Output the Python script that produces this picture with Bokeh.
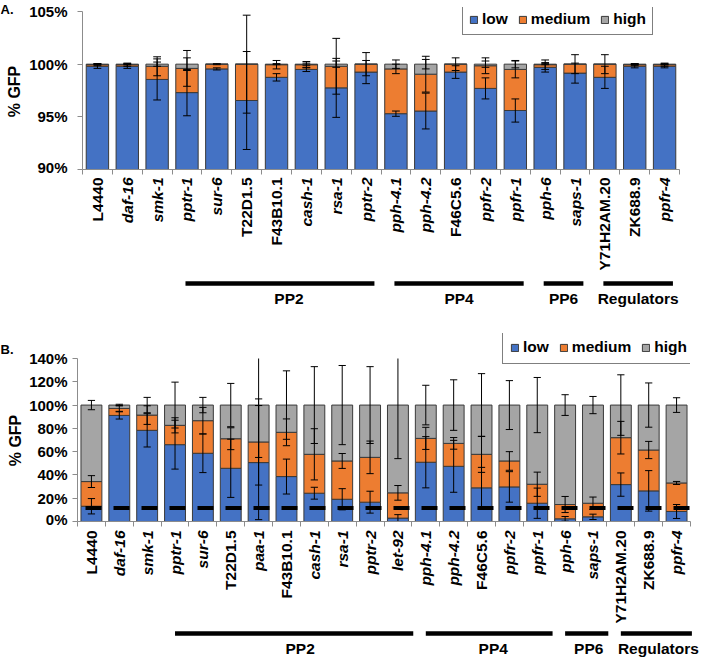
import math
from bokeh.plotting import figure
from bokeh.models import (ColumnDataSource, Range1d, FixedTicker, PrintfTickFormatter,
                          Legend, LegendItem, Span)
from bokeh.layouts import column, row
from bokeh.core.properties import value
from bokeh.embed import file_html
from bokeh.resources import INLINE

# ---------------- data: panel A ----------------
cats_a = ["L4440", "daf-16", "smk-1", "pptr-1", "sur-6", "T22D1.5", "F43B10.1", "cash-1",
          "rsa-1", "pptr-2", "pph-4.1", "pph-4.2", "F46C5.6", "ppfr-2", "ppfr-1", "pph-6",
          "saps-1", "Y71H2AM.20", "ZK688.9", "ppfr-4"]
low_a = [99.80, 99.80, 98.55, 97.30, 99.55, 96.55, 98.75, 99.50, 97.75, 99.25,
         95.30, 95.55, 99.25, 97.70, 95.60, 99.70, 99.15, 98.75, 99.80, 99.80]
med_a = [0.15, 0.15, 1.25, 2.30, 0.45, 3.45, 1.20, 0.45, 2.05, 0.75,
         4.25, 3.50, 0.75, 2.15, 3.90, 0.25, 0.85, 1.25, 0.15, 0.15]
high_a = [0.05, 0.05, 0.20, 0.40, 0.00, 0.00, 0.05, 0.05, 0.20, 0.00,
          0.45, 0.95, 0.00, 0.15, 0.50, 0.05, 0.00, 0.00, 0.05, 0.05]
err_low_a = [0.20, 0.20, 1.95, 2.20, 0.10, 4.65, 0.35, 0.20, 2.80, 1.10,
             0.25, 1.70, 0.60, 1.00, 1.10, 0.45, 0.95, 1.05, 0.15, 0.15]
err_med_a = [0.10, 0.15, 0.90, 1.70, 0.05, 4.65, 0.40, 0.30, 2.65, 1.10,
             0.45, 1.70, 0.60, 0.75, 0.80, 0.45, 0.90, 0.90, 0.10, 0.15]
err_high_a = [0.05, 0.05, 0.20, 0.60, 0.00, 0.00, 0.05, 0.10, 0.30, 0.00,
              0.40, 0.45, 0.00, 0.30, 0.35, 0.05, 0.00, 0.00, 0.05, 0.05]
yticks_a = [90, 95, 100, 105]
groups_a = [("PP2", "pptr-1", "pptr-2"), ("PP4", "pph-4.1", "ppfr-1"),
            ("PP6", "pph-6", "saps-1"), ("Regulators", "Y71H2AM.20", "ppfr-4")]

# ---------------- data: panel B ----------------
cats_b = ["L4440", "daf-16", "smk-1", "pptr-1", "sur-6", "T22D1.5", "paa-1", "F43B10.1",
          "cash-1", "rsa-1", "pptr-2", "let-92", "pph-4.1", "pph-4.2", "F46C5.6", "ppfr-2",
          "ppfr-1", "pph-6", "saps-1", "Y71H2AM.20", "ZK688.9", "ppfr-4"]
low_b = [13.1, 91.1, 78.3, 66.0, 58.6, 45.7, 50.6, 38.6, 24.3, 19.1, 16.6,
         2.9, 50.9, 47.4, 28.9, 29.7, 15.7, 2.3, 4.0, 31.7, 26.3, 8.6]
med_b = [21.2, 6.0, 13.1, 16.6, 28.0, 25.4, 17.7, 38.0, 33.4, 32.9, 38.5,
         21.7, 20.5, 19.7, 28.8, 22.3, 16.3, 12.3, 11.7, 40.3, 35.1, 24.5]
high_b = [65.7, 2.9, 8.6, 17.4, 13.4, 28.9, 31.7, 23.4, 42.3, 48.0, 44.9,
          75.4, 28.6, 32.9, 42.3, 48.0, 68.0, 85.4, 84.3, 28.0, 38.6, 66.9]
err_low_b = [6.6, 3.1, 14.3, 21.0, 16.6, 25.0, 49.0, 15.0, 5.1, 9.1, 9.4,
             3.0, 22.0, 22.3, 17.6, 13.1, 13.0, 2.0, 2.3, 10.0, 17.4, 6.0]
err_med_b = [5.1, 2.5, 8.0, 6.5, 11.4, 9.4, 37.0, 11.5, 22.0, 6.4, 14.0,
             6.3, 9.5, 5.0, 15.5, 8.0, 10.4, 6.9, 5.3, 14.0, 7.4, 1.3]
err_high_b = [4.0, 0.7, 6.6, 19.7, 6.6, 18.6, 45.0, 29.4, 33.0, 34.0, 33.0,
              46.0, 17.0, 21.7, 27.0, 21.0, 23.7, 8.9, 7.4, 26.0, 19.0, 6.3]
yticks_b = [0, 20, 40, 60, 80, 100, 120, 140]
threshold_b = 11.7
groups_b = [("PP2", "pptr-1", "let-92"), ("PP4", "pph-4.1", "ppfr-1"),
            ("PP6", "pph-6", "saps-1"), ("Regulators", "Y71H2AM.20", "ppfr-4")]

series = ["low", "medium", "high"]
plain_names = {"L4440", "T22D1.5", "F43B10.1", "F46C5.6", "Y71H2AM.20", "ZK688.9"}

# ---------------- style ----------------
FONT = "Liberation Sans"
COLORS = ["#4472C4", "#ED7D31", "#A5A5A5"]
EDGE = "#3a3a3a"
AXIS = "#8c8c8c"
W = 702      # full page width (Bokeh's page has no body margin)
LW = 24      # width of the little left column holding "A." / "% GFP"


def blank_fig(width, height):
    f = figure(width=width, height=height, x_range=Range1d(0, width), y_range=Range1d(0, height),
               x_axis_type=None, y_axis_type=None, output_backend="svg",
               toolbar_location=None, min_border=0, frame_align=False)
    f.outline_line_color = None
    f.xgrid.visible = False
    f.ygrid.visible = False
    f.background_fill_color = "white"
    f.border_fill_color = "white"
    return f


def make_panel(tag, cats, low, med, high, errs, yticks, geo, groups, threshold=None):
    n = len(cats)
    y0, y1 = yticks[0], yticks[-1]
    fl, fr, ft, ftop_axis, fb, mh, sh = (geo["fl"], geo["fr"], geo["ft"], geo["fa"],
                                         geo["fb"], geo["mh"], geo["sh"])
    cw = (fr - fl) / n
    # frame reaches up to the legend; the axis itself stops at y1
    y_ext = y0 + (y1 - y0) * (fb - ft) / (fb - ftop_axis)
    mw = W - LW
    p = figure(width=mw, height=mh, x_range=Range1d(0, n), y_range=Range1d(y0, y_ext),
               output_backend="svg", toolbar_location=None, frame_align=False,
               min_border_left=fl - LW, min_border_right=W - fr,
               min_border_top=ft, min_border_bottom=mh - fb)
    p.outline_line_color = None
    p.xgrid.visible = False
    p.ygrid.visible = False
    p.background_fill_color = "white"
    p.border_fill_color = "white"

    p.xaxis.ticker = FixedTicker(ticks=list(range(n + 1)))
    p.xaxis.major_label_overrides = {i: "" for i in range(n + 1)}
    p.xaxis.major_label_text_font_size = "1px"
    p.xaxis.major_label_standoff = 0
    p.xaxis.major_tick_out = 5
    p.xaxis.major_tick_in = 0
    p.xaxis.minor_tick_line_color = None
    p.xaxis.axis_line_color = AXIS
    p.xaxis.major_tick_line_color = AXIS

    p.yaxis.bounds = (y0, y1)
    p.yaxis.ticker = FixedTicker(ticks=yticks)
    p.yaxis.formatter = PrintfTickFormatter(format="%d%%")
    p.yaxis.major_tick_out = 5
    p.yaxis.major_tick_in = 0
    p.yaxis.minor_tick_line_color = None
    p.yaxis.axis_line_color = AXIS
    p.yaxis.major_tick_line_color = AXIS
    p.yaxis.major_label_text_font = FONT
    p.yaxis.major_label_text_font_style = "bold"
    p.yaxis.major_label_text_font_size = "15px"
    p.yaxis.major_label_text_color = "black"
    p.yaxis.major_label_standoff = geo["standoff"]

    xs = [i + 0.5 for i in range(n)]
    src = ColumnDataSource(dict(x=xs, low=low, medium=med, high=high))
    rs = p.vbar_stack(series, x="x", width=0.75, source=src,
                      fill_color=COLORS, line_color=EDGE, line_width=1)

    if threshold is not None:
        p.add_layout(Span(location=threshold, dimension="width", line_color="black",
                          line_width=4, line_dash="16 12", line_dash_offset=20))

    # error bars at the top of each stacked segment (cut at the axis top like the original)
    tops = [low,
            [a + b for a, b in zip(low, med)],
            [a + b + c for a, b, c in zip(low, med, high)]]
    ex, ey0, ey1 = [], [], []
    cx0, cx1, cy = [], [], []
    half_cap = 0.13
    for t, e in zip(tops, errs):
        for i in range(n):
            if e[i] <= 0:
                continue
            lo, hi = t[i] - e[i], t[i] + e[i]
            ex.append(xs[i]); ey0.append(max(lo, y0)); ey1.append(min(hi, y1))
            for yy in (lo, hi):
                if y0 <= yy <= y1:
                    cx0.append(xs[i] - half_cap); cx1.append(xs[i] + half_cap); cy.append(yy)
    p.segment(x0=ex, y0=ey0, x1=ex, y1=ey1, line_color="black", line_width=1)
    p.segment(x0=cx0, y0=cy, x1=cx1, y1=cy, line_color="black", line_width=1)

    legend = Legend(items=[LegendItem(label=s, renderers=[r]) for s, r in zip(series, rs)],
                    orientation="horizontal", location=geo["legend_loc"],
                    border_line_color="black", border_line_width=1,
                    background_fill_color="white", background_fill_alpha=1,
                    label_text_font=FONT, label_text_font_style="bold",
                    label_text_font_size="15.5px", label_text_color="black",
                    glyph_width=9, glyph_height=9, label_standoff=4, spacing=10,
                    padding=geo["leg_pad"], margin=0, label_height=16)
    p.add_layout(legend)

    # left column: panel tag and y-axis title
    lf = blank_fig(LW, mh)
    lf.text(x=[0], y=[mh - geo["tag_top"]], text=[tag], text_align="left", text_baseline="top",
            text_font=value(FONT), text_font_style=value("bold"),
            text_font_size=value("13px"), text_color="black")
    lf.text(x=[geo["ylab_x"]], y=[mh - geo["ylab_y"]], text=["% GFP"], angle=math.pi / 2,
            text_align="center", text_baseline="middle",
            text_font=value(FONT), text_font_style=value("bold"),
            text_font_size=value("16px"), text_color="black")

    # strip below the axis: category names, group bars and group names
    s = blank_fig(W, sh)
    cx = [fl + (i + 0.5) * cw for i in range(n)]
    ly = sh - geo["lab_top"]
    for style, keep in (("bold", True), ("bold italic", False)):
        idx = [i for i in range(n) if (cats[i] in plain_names) == keep]
        s.text(x=[cx[i] for i in idx], y=[ly] * len(idx), text=[cats[i] for i in idx],
               angle=math.pi / 2, text_align="right", text_baseline="middle",
               text_font=value(FONT), text_font_style=value(style),
               text_font_size=value("15.5px"), text_color="black")

    gx0, gx1, gx, gname = [], [], [], []
    for k, (name, first, last) in enumerate(groups):
        a = fl + (cats.index(first) + geo["g_start"]) * cw
        b = fl + (cats.index(last) + geo["g_end"]) * cw
        gx0.append(a); gx1.append(b); gx.append((a + b) / 2 + geo["g_shift"][k]); gname.append(name)
    gy = sh - geo["g_line"]
    s.segment(x0=gx0, y0=[gy] * len(gx0), x1=gx1, y1=[gy] * len(gx0),
              line_color="black", line_width=4.5, line_cap="butt")
    s.text(x=gx, y=[sh - geo["g_text"]] * len(gx), text=gname,
           text_align="center", text_baseline="middle",
           text_font=value(FONT), text_font_style=value("bold"),
           text_font_size=value("15.5px"), text_color="black")
    return row(lf, p, spacing=0), s


# pixel geometry of each panel (page pixels; B measured from its own top at y=318)
geo_a = dict(fl=82, fr=679, ft=7, fa=11, fb=169, mh=175, sh=143, standoff=10,
             tag_top=1, ylab_x=14, ylab_y=91, legend_loc=(380, 134), leg_pad=6,
             lab_top=2, g_line=108, g_text=123, g_start=0.45, g_end=0.78,
             g_shift=[9, 0, 0, 0])
geo_b = dict(fl=77, fr=690, ft=15, fa=40, fb=203, mh=209, sh=132, standoff=5,
             tag_top=23, ylab_x=14.5, ylab_y=122, legend_loc=(425, 157), leg_pad=7,
             lab_top=3, g_line=106, g_text=121, g_start=0.5, g_end=1.05,
             g_shift=[6, 4, 2, 2])

ra, sa = make_panel("A.", cats_a, low_a, med_a, high_a,
                    [err_low_a, err_med_a, err_high_a], yticks_a, geo_a, groups_a)
rb, sb = make_panel("B.", cats_b, low_b, med_b, high_b,
                    [err_low_b, err_med_b, err_high_b], yticks_b, geo_b, groups_b,
                    threshold=threshold_b)

layout = column(ra, sa, rb, sb, spacing=0)
open("out.html", "w").write(file_html(layout, INLINE))
